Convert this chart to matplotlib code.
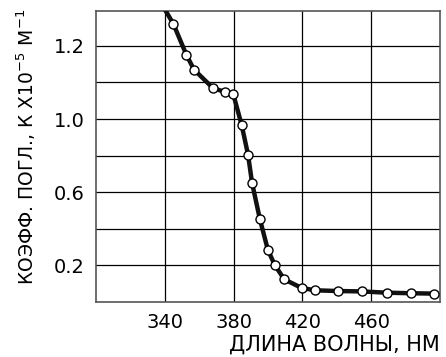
import matplotlib
matplotlib.use("Agg")
import matplotlib.pyplot as plt

wavelength = [340, 345, 352.6, 357, 367.9, 375.1, 379.8, 384.7, 388.4, 390.7, 395.2,
              399.9, 403.8, 409.4, 419.5, 427.3, 440.9, 454.3, 468.9, 483, 496.2]
absorb = [1.60, 1.52, 1.35, 1.27, 1.17, 1.147, 1.136, 0.966, 0.804, 0.652, 0.455,
          0.285, 0.204, 0.124, 0.077, 0.064, 0.060, 0.058, 0.051, 0.048, 0.046]

x_ticks = [340, 380, 420, 460]
y_grid = [0.2, 0.4, 0.6, 0.8, 1.0, 1.2, 1.4]
y_tick_labels = ["0.2", "", "0.6", "", "1.0", "", "1.2"]

plt.rcParams['font.family'] = ['DejaVu Sans']

fig = plt.figure(figsize=(4.46, 3.57), dpi=100)
ax = fig.add_axes([0.215, 0.154, 0.772, 0.815])

ax.plot(wavelength, absorb, color='#111111', lw=3.2, zorder=3, clip_on=True)
ax.plot(wavelength[1:], absorb[1:], linestyle='none', marker='o', ms=6.5,
        mfc='white', mec='black', mew=1.0, zorder=4)

ax.set_xlim(300, 500)
ax.set_ylim(0, 1.59)
ax.set_xticks(x_ticks)
ax.set_yticks(y_grid)
ax.set_yticklabels(y_tick_labels)
ax.grid(True, color='black', lw=0.9)
ax.set_axisbelow(True)
ax.tick_params(length=0, labelsize=14, pad=8)
for s in ax.spines.values():
    s.set_color('#555555')
    s.set_linewidth(1.2)

fig.text(0.987, 0.034, "ДЛИНА ВОЛНЫ, НМ", ha='right', va='center', fontsize=15)
fig.text(0.058, 0.588, r"КОЭФФ. ПОГЛ., К Х10$^{-5}$ М$^{-1}$", rotation=90,
         ha='center', va='center', fontsize=13.5)

fig.savefig("out.png", dpi=100)
